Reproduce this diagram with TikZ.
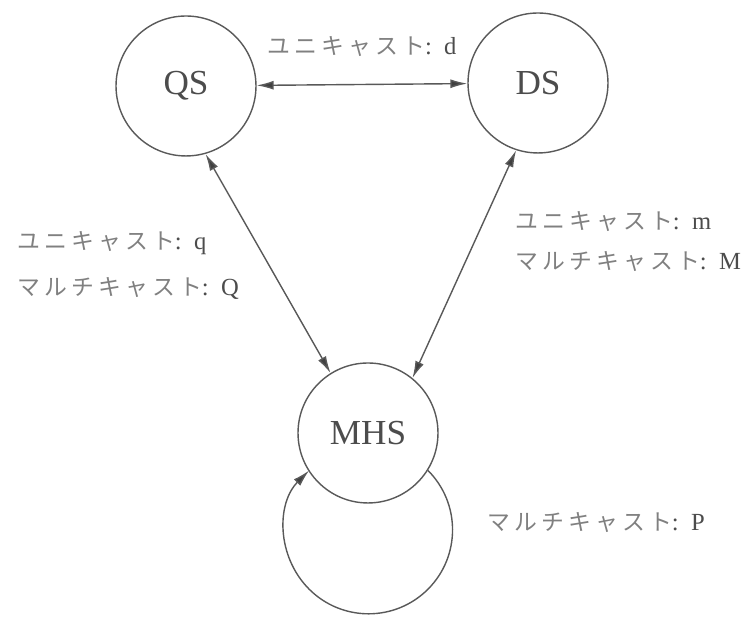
\documentclass[tikz,border=0pt]{standalone}
\usepackage{fontspec}
\setmainfont{Liberation Serif}
\newfontfamily\jp[LetterSpace=18]{Noto Sans CJK JP}
\usetikzlibrary{arrows.meta}
\newcommand{\lat}[1]{{\fontsize{14}{16}\selectfont\color{black!70}#1}}

\begin{document}
\begin{tikzpicture}[x=0.02cm, y=0.02cm,
    server/.style={draw=black!65, line width=0.8pt, circle, minimum size=2.8cm, inner sep=0pt,
        text=black!70, font=\fontsize{20}{24}\selectfont},
    link/.style={draw=black!65, line width=0.8pt},
    tip/.tip={Latex[length=3.4mm, width=1.8mm, fill=black!75]},
    cast/.style={text=black!50, font=\fontsize{13}{15}\selectfont, inner sep=0pt}]
    % diagram of the servers
    \useasboundingbox (0,0) rectangle (748,617);
    \node[server] (QS) at (186, 531) {QS};
    \node[server] (DS) at (538, 534) {DS};
    \node[server] (MHS) at (368, 184) {MHS};

    % links between servers
    \draw[link, tip-tip] (QS) -- (DS);
    \draw[link, tip-tip] (QS.-74) -- (MHS.122);
    \draw[link, tip-tip] (DS.-108) -- (MHS.51);
    \draw[link, -tip] (MHS.-32) arc[start angle=45, end angle=-225, radius=1.68cm];

    % labels
    \node[cast] (castd) at (362, 570) {{\jp ユニキャスト}\lat{:\enspace d}};
    \node[cast, anchor=west] (castq) at (17, 374) {{\jp ユニキャスト}\lat{:\enspace q}};
    \node[cast, anchor=west] (castQ) at (17, 329) {{\jp マルチキャスト}\lat{:\enspace Q}};
    \node[cast, anchor=west] (castm) at (515, 395) {{\jp ユニキャスト}\lat{:\enspace m}};
    \node[cast, anchor=west] (castM) at (515, 355) {{\jp マルチキャスト}\lat{:\enspace M}};
    \node[cast, anchor=west] (castP) at (487, 94) {{\jp マルチキャスト}\lat{:\enspace P}};
\end{tikzpicture}
\end{document}
